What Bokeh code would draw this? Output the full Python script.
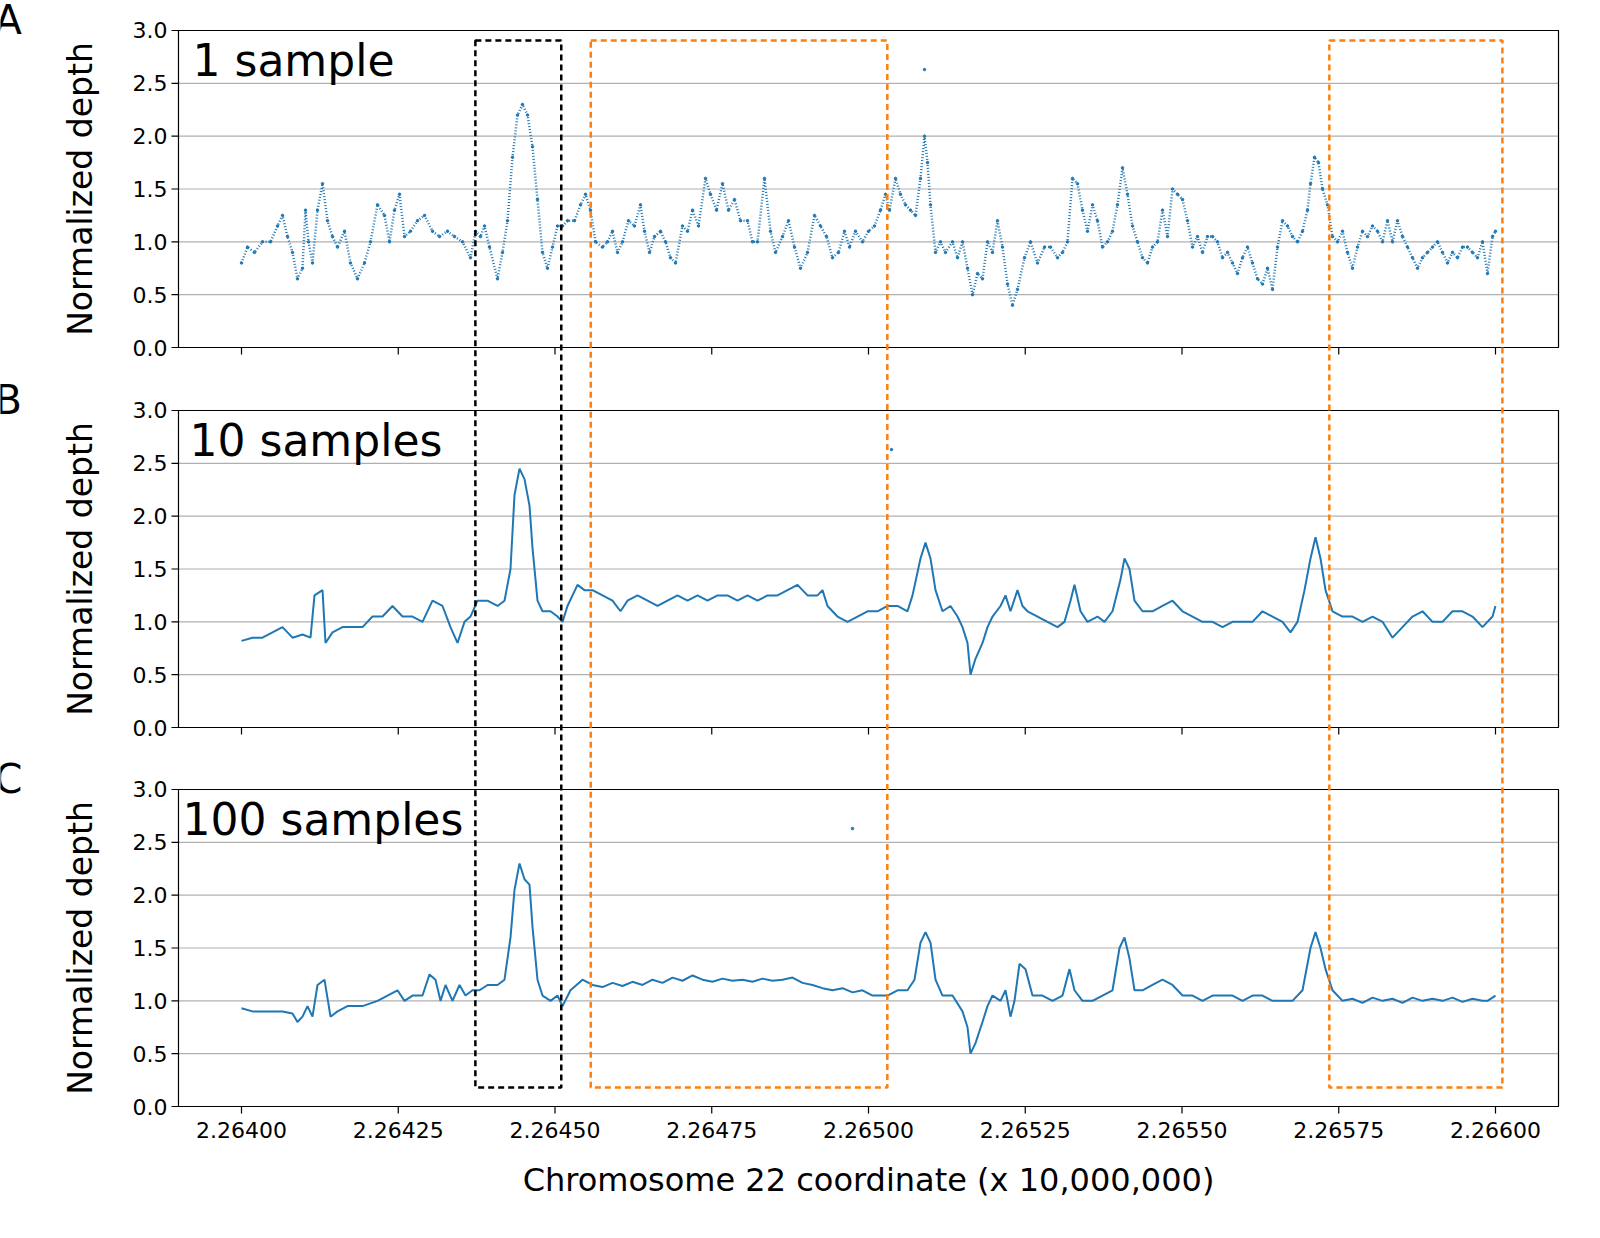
from bokeh.plotting import figure
from bokeh.models import Range1d
from bokeh.core.properties import value
from bokeh.embed import file_html
from bokeh.resources import INLINE

SCALE = 6.27  # reading scale: picture px per axis unit of 1e-5
def pos(lst):
    return [(v - 249) / SCALE for v in lst]

A_px = [249,255,262,270,278,285,290,295,300,305,310,313,316,320,325,330,335,340,345,352,358,365,372,378,385,392,397,402,407,412,418,425,432,440,447,455,462,470,478,483,488,492,497,505,510,515,520,525,530,535,540,545,550,555,560,565,570,575,582,588,593,598,603,610,615,620,625,630,636,642,648,652,657,662,668,673,678,683,690,695,700,706,713,718,724,730,736,742,748,755,760,765,772,778,783,790,796,802,808,815,822,828,834,840,846,852,857,863,870,876,882,888,893,897,903,908,913,918,923,928,932,935,938,943,948,953,960,965,970,975,980,985,990,995,1000,1005,1010,1015,1020,1025,1032,1038,1045,1052,1058,1065,1070,1075,1080,1085,1090,1095,1100,1105,1110,1115,1120,1125,1130,1135,1140,1145,1150,1155,1160,1165,1170,1175,1180,1185,1190,1195,1200,1205,1210,1215,1220,1225,1230,1235,1240,1245,1250,1255,1260,1265,1270,1275,1280,1285,1290,1295,1300,1305,1310,1315,1318,1322,1326,1330,1335,1340,1345,1350,1355,1360,1365,1370,1375,1380,1385,1390,1395,1400,1405,1410,1415,1420,1425,1430,1435,1440,1445,1450,1455,1460,1465,1470,1475,1480,1485,1490,1495,1500,1503]
A_val = [0.8,0.95,0.9,1.0,1.0,1.15,1.25,1.05,0.9,0.65,0.75,1.3,1.0,0.8,1.3,1.55,1.2,1.05,0.95,1.1,0.8,0.65,0.8,1.0,1.35,1.25,1.0,1.3,1.45,1.05,1.1,1.2,1.25,1.1,1.05,1.1,1.05,1.0,0.85,1.1,1.05,1.15,0.95,0.65,0.9,1.2,1.8,2.2,2.3,2.2,1.9,1.4,0.9,0.75,0.95,1.15,1.15,1.2,1.2,1.35,1.45,1.3,1.0,0.95,1.0,1.1,0.9,1.0,1.2,1.15,1.35,1.1,0.9,1.05,1.1,1.0,0.85,0.8,1.15,1.1,1.3,1.15,1.6,1.45,1.3,1.55,1.3,1.4,1.2,1.2,1.0,1.0,1.6,1.1,0.9,1.05,1.2,0.95,0.75,0.9,1.25,1.15,1.05,0.85,0.9,1.1,0.95,1.1,1.0,1.1,1.15,1.3,1.45,1.3,1.6,1.45,1.35,1.3,1.25,1.6,2.0,1.75,1.35,0.9,1.0,0.9,1.0,0.85,1.0,0.75,0.5,0.7,0.65,1.0,0.9,1.2,0.95,0.6,0.4,0.55,0.85,1.0,0.8,0.95,0.95,0.85,0.9,1.0,1.6,1.55,1.3,1.1,1.35,1.2,0.95,1.0,1.1,1.35,1.7,1.45,1.15,1.0,0.85,0.8,0.95,1.0,1.3,1.05,1.5,1.45,1.4,1.2,0.95,1.05,0.9,1.05,1.05,1.0,0.85,0.9,0.8,0.7,0.85,0.95,0.8,0.65,0.6,0.75,0.55,0.95,1.2,1.15,1.05,1.0,1.1,1.3,1.55,1.8,1.75,1.5,1.35,1.05,1.0,1.1,0.9,0.75,0.95,1.1,1.05,1.15,1.1,1.0,1.2,1.0,1.2,1.05,0.95,0.85,0.75,0.85,0.9,0.95,1.0,0.9,0.8,0.9,0.85,0.95,0.95,0.9,0.85,1.0,0.7,1.05,1.1]

B_px = [249,260,270,280,290,300,310,318,322,330,333,340,350,360,370,380,390,400,410,420,430,440,450,458,465,472,478,485,495,505,512,518,522,527,532,537,540,545,550,558,565,570,575,580,585,592,600,610,620,628,635,645,655,665,675,685,695,705,715,725,735,745,755,765,775,785,795,805,815,825,830,835,845,855,865,875,885,895,905,915,920,928,933,938,943,950,958,965,970,975,978,983,990,995,1000,1008,1013,1018,1025,1030,1035,1045,1055,1065,1072,1078,1082,1088,1095,1105,1112,1120,1128,1132,1137,1142,1150,1160,1170,1180,1190,1200,1210,1220,1230,1240,1250,1260,1270,1280,1290,1298,1305,1312,1318,1323,1328,1333,1340,1350,1360,1370,1380,1390,1400,1410,1420,1430,1440,1450,1460,1470,1480,1490,1500,1503]
B_val = [0.82,0.85,0.85,0.9,0.95,0.85,0.88,0.85,1.25,1.3,0.8,0.9,0.95,0.95,0.95,1.05,1.05,1.15,1.05,1.05,1.0,1.2,1.15,0.95,0.8,1.0,1.05,1.2,1.2,1.15,1.2,1.5,2.2,2.45,2.35,2.1,1.7,1.2,1.1,1.1,1.05,1.0,1.15,1.25,1.35,1.3,1.3,1.25,1.2,1.1,1.2,1.25,1.2,1.15,1.2,1.25,1.2,1.25,1.2,1.25,1.25,1.2,1.25,1.2,1.25,1.25,1.3,1.35,1.25,1.25,1.3,1.15,1.05,1.0,1.05,1.1,1.1,1.15,1.15,1.1,1.25,1.6,1.75,1.6,1.3,1.1,1.15,1.05,0.95,0.8,0.5,0.65,0.8,0.95,1.05,1.15,1.25,1.1,1.3,1.15,1.1,1.05,1.0,0.95,1.0,1.2,1.35,1.1,1.0,1.05,1.0,1.1,1.4,1.6,1.5,1.2,1.1,1.1,1.15,1.2,1.1,1.05,1.0,1.0,0.95,1.0,1.0,1.0,1.1,1.05,1.0,0.9,1.0,1.3,1.6,1.8,1.6,1.3,1.1,1.05,1.05,1.0,1.05,1.0,0.85,0.95,1.05,1.1,1.0,1.0,1.1,1.1,1.05,0.95,1.05,1.15]

C_px = [249,260,275,290,300,305,310,315,320,325,332,338,345,355,370,385,395,405,412,420,430,437,443,448,453,460,467,473,480,487,495,505,512,518,522,527,532,537,540,545,550,558,565,570,578,590,600,610,620,630,640,650,660,670,680,690,700,710,720,730,740,750,760,770,780,790,800,810,820,830,840,850,860,870,880,895,905,915,922,928,933,938,943,950,960,970,975,978,983,990,995,1000,1008,1013,1018,1022,1027,1033,1040,1050,1060,1070,1077,1082,1090,1100,1110,1120,1127,1132,1137,1142,1150,1160,1170,1180,1190,1200,1210,1220,1230,1240,1250,1260,1270,1280,1290,1300,1310,1318,1323,1328,1333,1340,1350,1360,1370,1380,1390,1400,1410,1420,1430,1440,1450,1460,1470,1480,1490,1495,1503]
C_val = [0.93,0.9,0.9,0.9,0.88,0.8,0.85,0.95,0.85,1.15,1.2,0.85,0.9,0.95,0.95,1.0,1.05,1.1,1.0,1.05,1.05,1.25,1.2,1.0,1.15,1.0,1.15,1.05,1.1,1.1,1.15,1.15,1.2,1.6,2.05,2.3,2.15,2.1,1.7,1.2,1.05,1.0,1.05,0.95,1.1,1.2,1.15,1.13,1.17,1.14,1.18,1.15,1.2,1.17,1.22,1.19,1.24,1.2,1.18,1.21,1.19,1.2,1.18,1.21,1.19,1.2,1.22,1.17,1.15,1.12,1.1,1.12,1.08,1.1,1.05,1.05,1.1,1.1,1.2,1.55,1.65,1.55,1.2,1.05,1.05,0.9,0.75,0.5,0.6,0.8,0.95,1.05,1.0,1.1,0.85,1.0,1.35,1.3,1.05,1.05,1.0,1.05,1.3,1.1,1.0,1.0,1.05,1.1,1.5,1.6,1.4,1.1,1.1,1.15,1.2,1.15,1.05,1.05,1.0,1.05,1.05,1.05,1.0,1.05,1.05,1.0,1.0,1.0,1.1,1.5,1.65,1.5,1.3,1.1,1.0,1.02,0.98,1.03,1.0,1.02,0.98,1.03,1.0,1.02,1.0,1.03,0.99,1.02,1.0,1.0,1.05]

outlier_px = [932, 899, 860]
outlier_val = [2.63, 2.63, 2.63]

panel_titles = ["1 sample", "10 samples", "100 samples"]
panel_letters = ["A", "B", "C"]
y_ticks = [0.0, 0.5, 1.0, 1.5, 2.0, 2.5, 3.0]
x_ticks = [0, 25, 50, 75, 100, 125, 150, 175, 200]
x_tick_labels = ["2.26400","2.26425","2.26450","2.26475","2.26500","2.26525","2.26550","2.26575","2.26600"]
x_title = "Chromosome 22 coordinate (x 10,000,000)"

# highlighted regions (axis offsets) spanning all panels
box_x0 = [37.3, 55.7, 173.5]
box_x1 = [51.0, 103.0, 201.1]
box_colors = ["black", "#ff7f0e", "#ff7f0e"]

PX = 1 / SCALE           # one screen px in x units
UNIT = 105.67            # screen px per depth unit
offsets = [(1114 - 355) / UNIT, (1114 - 735) / UNIT, 0.0]
XMIN, XMAX = -10.05, 210.05
BLUE = "#1f77b4"
FONT = "DejaVu Sans"

p = figure(frame_width=1568, frame_height=1200, output_backend="svg", toolbar_location=None,
           x_range=Range1d((8 - 249) / SCALE, (1576 - 249) / SCALE),
           y_range=Range1d((1114 - 1208) / UNIT, (1114 - 8) / UNIT),
           min_border_left=0, min_border_right=0, min_border_top=0, min_border_bottom=0)
p.outline_line_color = None
p.grid.visible = False
p.xaxis.visible = False
p.yaxis.visible = False

def txt(x, y, s, size, align="center", angle=0.0):
    p.text(x, y, text=s, text_align=align, text_baseline="middle", angle=angle,
           text_font=value(FONT), text_font_size=size, text_color="black")

series = [(A_px, A_val), (B_px, B_val), (C_px, C_val)]
title_px = [200, 197, 190]
for i, off in enumerate(offsets):
    for t in y_ticks[1:-1]:
        p.segment(XMIN, off + t, XMAX, off + t, color="#b0b0b0", line_width=1.2)
    p.quad(left=XMIN, right=XMAX, bottom=off, top=off + 3, fill_color=None, line_color="black", line_width=1.2)
    p.segment([XMIN] * 7, [off + t for t in y_ticks], [XMIN - 7 * PX] * 7, [off + t for t in y_ticks],
              color="black", line_width=1.2)
    txt([XMIN - 11 * PX] * 7, [off + t for t in y_ticks], [f"{t:.1f}" for t in y_ticks], "22px", "right")
    p.segment(x_ticks, [off] * 9, x_ticks, [off - 7 / UNIT] * 9, color="black", line_width=1.2)
    txt([(88 - 249) / SCALE], [off + 1.5], ["Normalized depth"], "33px", "center", 1.5708)
    txt([(2 - 249) / SCALE], [off + 3.0 + 0.1], [panel_letters[i]], "40px", "left")
    txt([(title_px[i] - 249) / SCALE], [off + 2.72], [panel_titles[i]], "44px", "left")
    xs, ys = series[i]
    yv = [off + v for v in ys]
    if i == 0:
        p.line(pos(xs), yv, color=BLUE, line_width=2.5, line_dash="1 2")
        p.scatter(pos(xs), yv, color=BLUE, size=2.5)
    else:
        p.line(pos(xs), yv, color=BLUE, line_width=2)
    p.scatter(pos([outlier_px[i]]), [off + outlier_val[i]], color=BLUE, size=2.5)

# bottom axis texts
txt(x_ticks, [(1114 - 1137) / UNIT] * 9, x_tick_labels, "22px", "center")
txt([100], [(1114 - 1187) / UNIT], [x_title], "32px", "center")

top_y = (1114 - 48) / UNIT
bot_y = (1114 - 1095) / UNIT
for x0, x1, c in zip(box_x0, box_x1, box_colors):
    p.quad(left=x0, right=x1, bottom=bot_y, top=top_y, fill_color=None, line_color=c,
           line_width=2.5, line_dash="6 4")

open("out.html", "w").write(file_html(p, INLINE))
